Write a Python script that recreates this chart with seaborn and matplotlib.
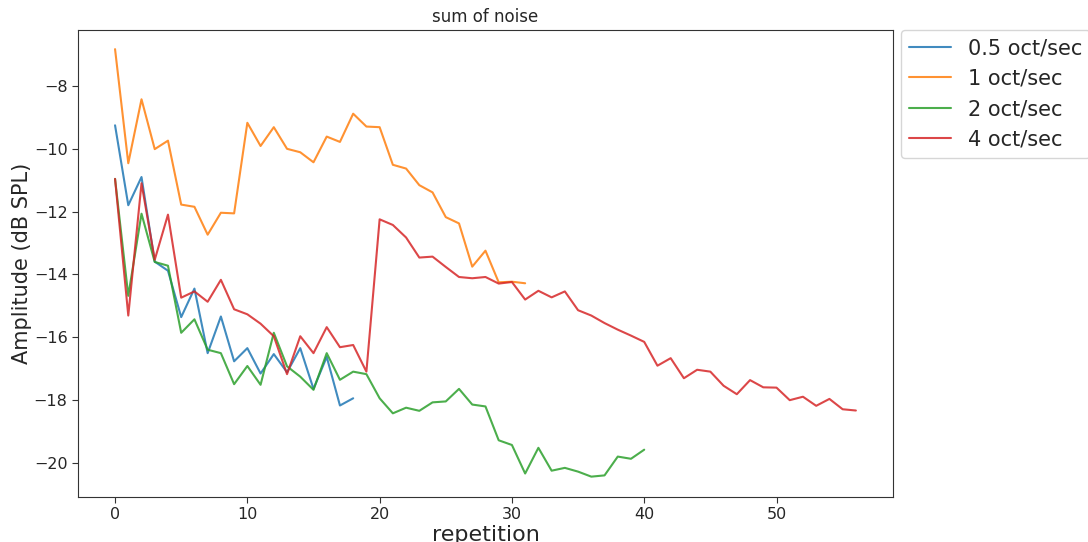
import numpy as np
import pandas as pd
import matplotlib
matplotlib.use("Agg")
import matplotlib.pyplot as plt
import seaborn as sns

# ─────────────────────────────────────────
# DATA
# ─────────────────────────────────────────

labels = ["0.5 oct/sec", "1 oct/sec", "2 oct/sec", "4 oct/sec"]

amp_05 = [-9.24, -11.79, -10.89, -13.59, -13.88, -15.36, -14.45, -16.51, -15.34, -16.77,
          -16.35, -17.16, -16.54, -17.12, -16.35, -17.65, -16.63, -18.18, -17.95]

amp_1 = [-6.81, -10.45, -8.41, -10.00, -9.73, -11.77, -11.84, -12.73, -12.03, -12.05,
         -9.16, -9.90, -9.30, -9.99, -10.10, -10.42, -9.60, -9.77, -8.87, -9.28,
         -9.30, -10.50, -10.62, -11.15, -11.38, -12.17, -12.37, -13.75, -13.24, -14.25,
         -14.23, -14.28]

amp_2 = [-10.95, -14.68, -12.06, -13.60, -13.72, -15.86, -15.43, -16.40, -16.51, -17.50,
         -16.92, -17.52, -15.86, -16.93, -17.26, -17.68, -16.51, -17.36, -17.10, -17.18,
         -17.95, -18.43, -18.25, -18.35, -18.08, -18.05, -17.65, -18.15, -18.21, -19.29,
         -19.44, -20.35, -19.53, -20.26, -20.17, -20.29, -20.45, -20.41, -19.81, -19.88,
         -19.59]

amp_4 = [-10.95, -15.31, -11.09, -13.53, -12.09, -14.74, -14.54, -14.87, -14.17, -15.11,
         -15.27, -15.57, -15.97, -17.18, -15.97, -16.51, -15.68, -16.32, -16.25, -17.10,
         -12.24, -12.42, -12.82, -13.46, -13.43, -13.76, -14.08, -14.12, -14.08, -14.29,
         -14.24, -14.80, -14.52, -14.73, -14.54, -15.14, -15.31, -15.55, -15.76, -15.95,
         -16.15, -16.91, -16.67, -17.31, -17.04, -17.10, -17.55, -17.82, -17.37, -17.60,
         -17.61, -18.01, -17.90, -18.19, -17.97, -18.30, -18.34]

# ─────────────────────────────────────────
# LONG FORMAT TABLE
# ─────────────────────────────────────────

frames = []
for name, vals in zip(labels, [amp_05, amp_1, amp_2, amp_4]):
    frames.append(pd.DataFrame({
        "repetition": np.arange(len(vals)),
        "amplitude": vals,
        "speed": name,
    }))
df = pd.concat(frames, ignore_index=True)

# ─────────────────────────────────────────
# PLOT
# ─────────────────────────────────────────

sns.set_style("white")
plt.rcParams["font.family"] = ["DejaVu Sans"]

fig = plt.figure(figsize=(10.88, 5.42), dpi=100)
ax = fig.add_axes([0.0717, 0.083, 0.749, 0.8616])

sns.lineplot(data=df, x="repetition", y="amplitude", hue="speed",
             hue_order=labels, palette="tab10", linewidth=1.5, alpha=0.85, ax=ax)

ax.set_title("sum of noise", fontsize=12)
ax.set_xlabel("repetition", fontsize=16, labelpad=2)
ax.set_ylabel("Amplitude (dB SPL)", fontsize=15, labelpad=1)
ax.tick_params(axis="both", labelsize=11.5, length=4, width=0.8, color="#333333",
               bottom=True, left=True)
ax.set_xlim(-2.8, 58.8)
ax.set_ylim(-21.1, -6.2)
ax.set_xticks([0, 10, 20, 30, 40, 50])
ax.set_yticks([-20, -18, -16, -14, -12, -10, -8])
for s in ax.spines.values():
    s.set_color("#333333")
    s.set_linewidth(0.8)

ax.legend(title=None, fontsize=15, loc="upper left",
          bbox_to_anchor=(1.01, 1.0), borderaxespad=0.0, handlelength=2.0)

fig.savefig("out.png", dpi=100)
